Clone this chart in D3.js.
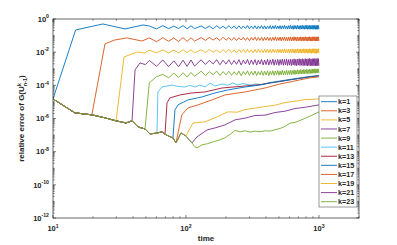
<!DOCTYPE html>
<html>
<head>
<meta charset="utf-8">
<script src="https://d3js.org/d3.v7.min.js"></script>
<style>
  body { margin: 0; background: #fff; }
  svg { display: block; font-family: "Liberation Sans", Arial, sans-serif; }
</style>
</head>
<body>
<div id="chart"></div>
<script>
// ---- data (errors stored as log10 of the relative error) ----
const kNames = ["k=1", "k=3", "k=5", "k=7", "k=9", "k=11", "k=13", "k=15", "k=17", "k=19", "k=21", "k=23"];

// common decaying curve every run follows before it blows up (k=23 follows it to the end)
const baseT = [10, 14.6, 19.6, 24.6, 29.8, 35.4, 39.3, 43.6, 49.2, 53.6, 60.5, 66, 69.5, 75, 79.8, 84.1, 91.7, 100, 106, 111,
  116, 121, 132, 145, 160, 178, 196, 215, 234, 255, 278, 303, 330, 360, 393, 430, 467, 510, 555, 605, 660, 720, 790, 856, 930, 1000];
const baseE = [-4.82, -5.66, -5.78, -5.96, -6.14, -6.27, -6.14, -6.51, -6.63, -6.93, -6.88, -6.80, -6.95, -7.08, -7.17, -7.47, -6.87, -7.05, -7.30, -7.47,
  -7.70, -7.77, -7.59, -7.52, -7.41, -7.30, -7.17, -6.95, -6.72, -6.80, -6.74, -6.82, -6.76, -6.80, -6.74, -6.76, -6.68, -6.60, -6.48, -6.28, -6.24, -6.12, -5.98, -5.86, -5.72, -5.60];

// how many points of the common curve each run shares
const leaveAt = [1, 3, 5, 7, 9, 11, 13, 15, 16, 18, 20, 46];

// time grid of the oscillating plateaus
const waveT = [53, 60, 67, 74, 81, 88, 95, 102, 109, 116,
  130, 140, 150, 160, 170, 180, 190, 200, 210, 220, 230, 240, 250, 260, 270, 280, 290, 300, 310, 320,
  330, 340, 350, 360, 370, 380, 390, 400, 410, 420, 430, 440, 450, 460, 470, 480, 490, 500, 510, 520,
  530, 540, 550, 560, 570, 580, 590, 600, 610, 620, 630, 640, 650, 660, 670, 680, 690, 700, 710, 720,
  730, 740, 750, 760, 770, 780, 790, 800, 810, 820, 830, 840, 850, 860, 870, 880, 890, 900, 910, 920,
  930, 940, 950, 960, 970, 980, 990, 1000];

const k1T = [14.8, 23.7, 34.8, 47.5];
const k1E = [-0.66, -0.30, -0.60, -0.36];
const k1Wave = [-0.42, -0.60, -0.40, -0.58, -0.43, -0.57, -0.40, -0.59, -0.41, -0.58,
  -0.42, -0.57, -0.43, -0.59, -0.41, -0.56, -0.44, -0.58, -0.40, -0.57,
  -0.43, -0.60, -0.41, -0.58, -0.42, -0.57, -0.40, -0.59, -0.43, -0.58,
  -0.41, -0.60, -0.42, -0.57, -0.40, -0.59, -0.41, -0.60, -0.43, -0.58,
  -0.40, -0.61, -0.41, -0.58, -0.39, -0.60, -0.42, -0.59, -0.40, -0.61,
  -0.41, -0.58, -0.39, -0.60, -0.42, -0.61, -0.40, -0.59, -0.38, -0.60,
  -0.41, -0.62, -0.39, -0.59, -0.40, -0.61, -0.38, -0.60, -0.41, -0.62,
  -0.39, -0.60, -0.38, -0.61, -0.40, -0.62, -0.39, -0.60, -0.38, -0.62,
  -0.40, -0.61, -0.38, -0.62, -0.39, -0.60, -0.38, -0.62, -0.40, -0.61,
  -0.38, -0.62, -0.39, -0.61, -0.38, -0.62, -0.39, -0.61];

const k3T = [24.6, 29, 36, 46.7];
const k3E = [-1.50, -1.27, -1.14, -1.33];
const k3Wave = [-1.14, -1.37, -1.13, -1.34, -1.14, -1.36, -1.12, -1.35, -1.13, -1.33,
  -1.12, -1.29, -1.11, -1.27, -1.13, -1.30, -1.10, -1.28, -1.12, -1.29,
  -1.11, -1.30, -1.13, -1.27, -1.10, -1.29, -1.12, -1.31, -1.11, -1.28,
  -1.09, -1.30, -1.12, -1.29, -1.10, -1.31, -1.11, -1.28, -1.09, -1.30,
  -1.12, -1.31, -1.10, -1.29, -1.08, -1.31, -1.11, -1.30, -1.09, -1.32,
  -1.10, -1.29, -1.08, -1.31, -1.11, -1.32, -1.09, -1.30, -1.08, -1.32,
  -1.10, -1.31, -1.07, -1.30, -1.09, -1.33, -1.08, -1.31, -1.10, -1.32,
  -1.07, -1.31, -1.09, -1.33, -1.08, -1.30, -1.07, -1.32, -1.09, -1.33,
  -1.08, -1.31, -1.07, -1.33, -1.09, -1.32, -1.07, -1.33, -1.08, -1.31,
  -1.07, -1.33, -1.08, -1.32, -1.07, -1.33, -1.08, -1.32];

const k5T = [34.2, 42.8, 49];
const k5E = [-2.29, -1.99, -2.05];
const k5Wave = [-1.88, -2.04, -1.86, -2.05, -1.87, -2.04, -1.85, -2.03, -1.86, -2.04,
  -1.86, -2.02, -1.84, -2.00, -1.87, -2.03, -1.85, -2.01, -1.83, -2.02,
  -1.86, -2.04, -1.84, -2.01, -1.85, -2.03, -1.83, -2.02, -1.86, -2.04,
  -1.84, -2.03, -1.82, -2.01, -1.85, -2.04, -1.83, -2.02, -1.81, -2.04,
  -1.84, -2.05, -1.82, -2.02, -1.85, -2.04, -1.81, -2.03, -1.83, -2.05,
  -1.82, -2.03, -1.80, -2.05, -1.83, -2.04, -1.81, -2.06, -1.82, -2.03,
  -1.80, -2.05, -1.83, -2.06, -1.81, -2.04, -1.80, -2.06, -1.82, -2.05,
  -1.80, -2.06, -1.82, -2.04, -1.79, -2.06, -1.81, -2.05, -1.80, -2.07,
  -1.81, -2.05, -1.79, -2.06, -1.81, -2.07, -1.80, -2.05, -1.79, -2.07,
  -1.80, -2.06, -1.79, -2.07, -1.81, -2.06, -1.79, -2.07];

const k7T = [41.4, 45.1, 49.5];
const k7E = [-3.07, -2.65, -2.75];
const k7Wave = [-2.50, -2.85, -2.47, -2.87, -2.52, -2.88, -2.48, -2.86, -2.47, -2.84,
  -2.46, -2.74, -2.49, -2.71, -2.45, -2.76, -2.48, -2.72, -2.46, -2.75,
  -2.50, -2.73, -2.45, -2.77, -2.48, -2.71, -2.44, -2.76, -2.47, -2.74,
  -2.45, -2.78, -2.49, -2.72, -2.44, -2.77, -2.47, -2.75, -2.43, -2.78,
  -2.46, -2.74, -2.42, -2.79, -2.46, -2.76, -2.43, -2.80, -2.45, -2.75,
  -2.42, -2.79, -2.44, -2.77, -2.41, -2.80, -2.45, -2.78, -2.42, -2.81,
  -2.44, -2.77, -2.40, -2.80, -2.43, -2.82, -2.41, -2.78, -2.39, -2.81,
  -2.42, -2.79, -2.40, -2.82, -2.43, -2.80, -2.39, -2.81, -2.41, -2.83,
  -2.40, -2.80, -2.38, -2.82, -2.41, -2.81, -2.39, -2.83, -2.40, -2.80,
  -2.38, -2.83, -2.40, -2.81, -2.38, -2.82, -2.39, -2.81];

const k9T = [];
const k9E = [];
const k9Wave = [-3.85, -3.48, -3.34, -3.54, -3.27, -3.52, -3.24, -3.50, -3.22, -3.45,
  -3.15, -3.40, -3.18, -3.36, -3.14, -3.41, -3.17, -3.37, -3.15, -3.40,
  -3.18, -3.38, -3.14, -3.42, -3.17, -3.36, -3.13, -3.40, -3.16, -3.38,
  -3.14, -3.41, -3.17, -3.37, -3.13, -3.40, -3.15, -3.38, -3.12, -3.41,
  -3.15, -3.37, -3.12, -3.40, -3.14, -3.36, -3.11, -3.39, -3.14, -3.37,
  -3.10, -3.38, -3.13, -3.35, -3.09, -3.37, -3.12, -3.34, -3.08, -3.36,
  -3.11, -3.33, -3.07, -3.35, -3.10, -3.32, -3.06, -3.33, -3.09, -3.31,
  -3.05, -3.32, -3.08, -3.30, -3.04, -3.31, -3.07, -3.29, -3.03, -3.30,
  -3.06, -3.28, -3.02, -3.29, -3.05, -3.27, -3.01, -3.28, -3.04, -3.26,
  -3.00, -3.27, -3.03, -3.25, -3.00, -3.26, -3.02, -3.24];

const k11T = [61.5, 66, 72, 78.5, 87, 98, 107, 117, 127, 139, 152, 165, 187, 206, 225, 246, 268, 303, 335, 372, 428, 509, 605, 720, 856, 1000];
const k11E = [-4.40, -4.10, -4.04, -3.98, -4.07, -4.10, -4.00, -4.10, -3.98, -4.10, -3.86, -4.04, -3.92, -4.00, -3.86, -3.98, -3.89, -3.98, -3.92, -3.95, -3.83, -3.73, -3.64, -3.55, -3.46, -3.40];

const k13T = [72, 75.7, 90, 111, 139, 187, 278, 360, 430, 510, 605, 720, 856, 1000];
const k13E = [-5.06, -4.76, -4.58, -4.46, -4.40, -4.16, -4.04, -3.96, -3.85, -3.76, -3.66, -3.57, -3.48, -3.42];

const k15T = [82.6, 87.1, 103.5, 132, 165, 206, 278, 360, 428, 509, 605, 720, 856, 1000];
const k15E = [-5.48, -5.18, -4.88, -4.70, -4.46, -4.28, -4.10, -3.98, -3.86, -3.77, -3.67, -3.58, -3.49, -3.43];

const k17T = [93, 103.5, 123, 157, 196, 278, 330, 393, 509, 605, 720, 856, 1000];
const k17E = [-5.78, -5.36, -5.18, -4.88, -4.58, -4.40, -4.28, -4.16, -3.92, -3.80, -3.67, -3.55, -3.49];

const k19T = [113, 139, 165, 206, 243, 278, 330, 393, 467, 555, 660, 790, 1000];
const k19E = [-6.27, -6.20, -5.96, -5.60, -5.62, -5.46, -5.38, -5.28, -5.20, -5.04, -4.96, -4.86, -4.82];

const k21T = [121, 144, 165, 196, 234, 278, 330, 393, 467, 555, 660, 790, 1000];
const k21E = [-7.11, -6.69, -6.57, -6.39, -6.08, -5.98, -5.82, -5.80, -5.64, -5.56, -5.40, -5.32, -5.18];

const k23T = [];
const k23E = [];

const lineColors = ["#0072BD", "#D95319", "#EDB120", "#7E2F8E", "#77AC30", "#4DBEEE", "#A2142F",
  "#0072BD", "#D95319", "#EDB120", "#7E2F8E", "#77AC30"];

const ownT = [k1T, k3T, k5T, k7T, k9T, k11T, k13T, k15T, k17T, k19T, k21T, k23T];
const ownE = [k1E, k3E, k5E, k7E, k9E, k11E, k13E, k15E, k17E, k19E, k21E, k23E];
const waves = [k1Wave, k3Wave, k5Wave, k7Wave, k9Wave, null, null, null, null, null, null, null];

const runs = kNames.map((name, i) => {
  const pts = baseT.slice(0, leaveAt[i]).map((t, j) => [t, baseE[j]]);
  ownT[i].forEach((t, j) => pts.push([t, ownE[i][j]]));
  if (waves[i]) waveT.forEach((t, j) => pts.push([t, waves[i][j]]));
  return { name: name, color: lineColors[i], pts: pts };
});

// ---- chart ----
const W = 397, H = 245;
const m = { left: 53, right: 359, top: 19, bottom: 218 };
const axisColor = "#262626";

const x = d3.scaleLog().domain([10, 2000]).range([m.left, m.right]);
const y = d3.scaleLog().domain([1e-12, 1]).range([m.bottom, m.top]);

const svg = d3.select("#chart").append("svg")
  .attr("width", W)
  .attr("height", H);

svg.append("clipPath").attr("id", "plotclip")
  .append("rect")
  .attr("x", m.left).attr("y", m.top)
  .attr("width", m.right - m.left).attr("height", m.bottom - m.top);

// lines
const line = d3.line()
  .x(d => x(d[0]))
  .y(d => y(Math.pow(10, d[1])));

svg.append("g").attr("clip-path", "url(#plotclip)")
  .selectAll("path")
  .data(runs)
  .join("path")
  .attr("d", d => line(d.pts))
  .attr("fill", "none")
  .attr("stroke", d => d.color)
  .attr("stroke-width", 0.9)
  .attr("stroke-linejoin", "round");

// ticks (inward, on all four sides)
const ticks = svg.append("g").attr("stroke", axisColor).attr("stroke-width", 0.6);
const xMajor = [10, 100, 1000];
const xMinor = x.ticks().filter(v => xMajor.indexOf(v) < 0);
const yMajor = [1, 1e-2, 1e-4, 1e-6, 1e-8, 1e-10, 1e-12];
const yMinor = [];
for (let p = -12; p < 0; p++) {
  for (let k = 1; k < 10; k++) {
    const v = k * Math.pow(10, p);
    if (!(k === 1 && p % 2 === 0)) yMinor.push(v);
  }
}

function xTick(v, len) {
  ticks.append("line").attr("x1", x(v)).attr("x2", x(v)).attr("y1", m.bottom).attr("y2", m.bottom - len);
  ticks.append("line").attr("x1", x(v)).attr("x2", x(v)).attr("y1", m.top).attr("y2", m.top + len);
}
function yTick(v, len) {
  ticks.append("line").attr("y1", y(v)).attr("y2", y(v)).attr("x1", m.left).attr("x2", m.left + len);
  ticks.append("line").attr("y1", y(v)).attr("y2", y(v)).attr("x1", m.right).attr("x2", m.right - len);
}
xMajor.forEach(v => xTick(v, 3));
xMinor.forEach(v => xTick(v, 1.6));
yMajor.forEach(v => yTick(v, 3));
yMinor.forEach(v => yTick(v, 1.6));

// frame
svg.append("rect")
  .attr("x", m.left).attr("y", m.top)
  .attr("width", m.right - m.left).attr("height", m.bottom - m.top)
  .attr("fill", "none")
  .attr("stroke", axisColor)
  .attr("stroke-width", 0.7);

// tick labels
const labelG = svg.append("g").attr("fill", "#262626").attr("font-weight", "bold");

xMajor.forEach(v => {
  const t = labelG.append("text")
    .attr("x", x(v)).attr("y", 231)
    .attr("text-anchor", "middle")
    .attr("font-size", 7.5);
  t.append("tspan").text("10");
  t.append("tspan").attr("dy", -3.5).attr("font-size", 5.2).text(String(Math.round(Math.log10(v))));
});

yMajor.forEach(v => {
  const t = labelG.append("text")
    .attr("x", m.left - 4).attr("y", y(v) + 2.7)
    .attr("text-anchor", "end")
    .attr("font-size", 7.5);
  t.append("tspan").text("10");
  t.append("tspan").attr("dy", -3.5).attr("font-size", 5.2).text(String(Math.round(Math.log10(v))));
});

// axis titles
labelG.append("text")
  .attr("x", (m.left + m.right) / 2).attr("y", 241)
  .attr("text-anchor", "middle")
  .attr("font-size", 8)
  .text("time");

const yl = labelG.append("text")
  .attr("transform", "translate(24," + ((m.top + m.bottom) / 2) + ") rotate(-90)")
  .attr("text-anchor", "middle")
  .attr("font-size", 8);
yl.append("tspan").text("relative error of G(U");
yl.append("tspan").attr("dy", -3).attr("font-size", 5.5).text("k");
yl.append("tspan").attr("dx", -3).attr("dy", 5.5).attr("font-size", 5.5).text("n-1");
yl.append("tspan").attr("dy", -2.5).text(")");

// legend
const lg = svg.append("g");
lg.append("rect")
  .attr("x", 319).attr("y", 96)
  .attr("width", 38).attr("height", 111)
  .attr("fill", "#fff")
  .attr("stroke", "#555")
  .attr("stroke-width", 0.6);

const rowY = d3.scalePoint().domain(kNames).range([101.7, 201.7]);
const item = lg.selectAll("g.item")
  .data(runs)
  .join("g")
  .attr("class", "item")
  .attr("transform", d => "translate(0," + rowY(d.name) + ")");
item.append("line")
  .attr("x1", 321).attr("x2", 337)
  .attr("stroke", d => d.color)
  .attr("stroke-width", 0.9);
item.append("text")
  .attr("x", 338).attr("y", 2.6)
  .attr("font-size", 7.2)
  .attr("font-weight", "bold")
  .attr("fill", "#262626")
  .text(d => d.name);
</script>
</body>
</html>
